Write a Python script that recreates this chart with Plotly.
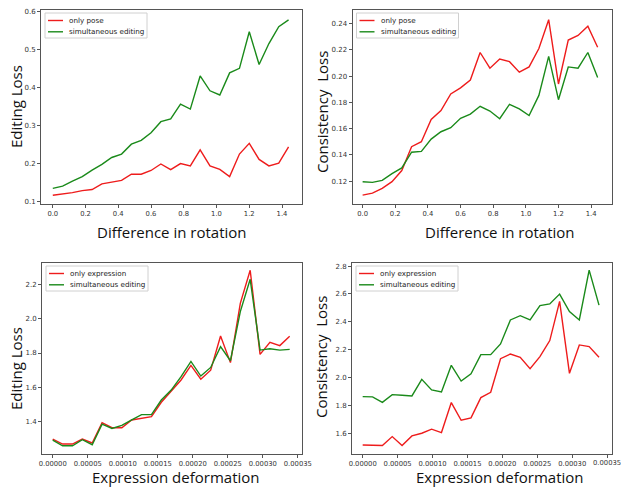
import plotly.graph_objects as go

W, H = 621, 488

# ---------------- data ----------------
rot_x = [round(i * 0.06, 2) for i in range(25)]
pose_edit_only = [0.117, 0.120, 0.124, 0.129, 0.132, 0.147, 0.152, 0.156, 0.172, 0.172,
                  0.182, 0.199, 0.184, 0.200, 0.194, 0.236, 0.194, 0.185, 0.166, 0.225,
                  0.253, 0.211, 0.194, 0.201, 0.244]
pose_edit_sim = [0.135, 0.141, 0.154, 0.166, 0.183, 0.198, 0.216, 0.225, 0.251, 0.261,
                 0.281, 0.310, 0.317, 0.356, 0.343, 0.430, 0.391, 0.380, 0.438, 0.450,
                 0.546, 0.460, 0.515, 0.559, 0.577]
pose_cons_only = [0.1093, 0.1108, 0.1144, 0.1195, 0.128, 0.1462, 0.150, 0.167, 0.1737, 0.1864,
                  0.191, 0.197, 0.218, 0.206, 0.213, 0.211, 0.203, 0.207, 0.221, 0.243,
                  0.194, 0.2275, 0.231, 0.238, 0.222]
pose_cons_sim = [0.1195, 0.119, 0.1205, 0.1256, 0.130, 0.142, 0.1426, 0.152, 0.1576, 0.1607,
                 0.1678, 0.171, 0.177, 0.1734, 0.1675, 0.1785, 0.175, 0.170, 0.1853, 0.215,
                 0.182, 0.207, 0.206, 0.218, 0.199]

exp_x = [i * 0.0000141 for i in range(25)]
exp_edit_only = [1.299, 1.270, 1.270, 1.299, 1.276, 1.394, 1.365, 1.365, 1.410, 1.419,
                 1.429, 1.513, 1.575, 1.643, 1.728, 1.647, 1.700, 1.899, 1.744, 2.089,
                 2.282, 1.792, 1.862, 1.843, 1.897]
exp_edit_sim = [1.293, 1.260, 1.260, 1.295, 1.266, 1.386, 1.361, 1.379, 1.410, 1.441,
                1.441, 1.526, 1.584, 1.662, 1.751, 1.666, 1.716, 1.837, 1.755, 2.041,
                2.229, 1.817, 1.825, 1.817, 1.821]
exp_cons_only = [1.516, 1.512, 1.512, 1.576, 1.512, 1.581, 1.600, 1.629, 1.605, 1.820,
                 1.693, 1.710, 1.856, 1.894, 2.135, 2.169, 2.145, 2.064, 2.150, 2.265,
                 2.547, 2.030, 2.234, 2.222, 2.145]
exp_cons_sim = [1.863, 1.861, 1.822, 1.877, 1.873, 1.868, 1.987, 1.911, 1.896, 2.088,
                1.975, 2.026, 2.164, 2.164, 2.241, 2.413, 2.444, 2.413, 2.516, 2.528,
                2.599, 2.473, 2.413, 2.771, 2.520]

rot_ticks = [0.0, 0.2, 0.4, 0.6, 0.8, 1.0, 1.2, 1.4]
exp_ticks = [0.0, 0.00005, 0.0001, 0.00015, 0.0002, 0.00025, 0.0003, 0.00035]

RED = "#ee1c1c"
GREEN = "#1a8a1a"

# panel boxes in pixels: (left, right, top, bottom)
boxes = {
    1: (41, 302, 10, 204),
    2: (352.5, 612, 10, 204),
    3: (42, 302, 263, 454),
    4: (352, 612, 263, 454),
}

panels = [
    (1, rot_x, pose_edit_only, pose_edit_sim, "only pose", [-0.072, 1.522], [0.094, 0.603],
     rot_ticks, ".1f", [0.1, 0.2, 0.3, 0.4, 0.5, 0.6], ".1f", "Editing Loss", "Difference in rotation",
     (16, 107), (172, 232)),
    (2, rot_x, pose_cons_only, pose_cons_sim, "only pose", [-0.062, 1.528], [0.1025, 0.2504],
     rot_ticks, ".1f", [0.12, 0.14, 0.16, 0.18, 0.20, 0.22, 0.24], ".2f", "Consistency  Loss",
     "Difference in rotation", (322, 112), (500, 232)),
    (3, exp_x, exp_edit_only, exp_edit_sim, "only expression", [-0.0000153, 0.000356], [1.212, 2.324],
     exp_ticks, ".5f", [1.4, 1.6, 1.8, 2.0, 2.2], ".1f", "Editing Loss", "Expression deformation",
     (16, 369), (176, 477)),
    (4, exp_x, exp_cons_only, exp_cons_sim, "only expression", [-0.0000153, 0.000357], [1.451, 2.822],
     exp_ticks, ".5f", [1.6, 1.8, 2.0, 2.2, 2.4, 2.6, 2.8], ".1f", "Consistency  Loss",
     "Expression deformation", (321, 357), (500, 477)),
]

fig = go.Figure()
layout = dict(
    width=W, height=H, margin=dict(l=0, r=0, t=0, b=0),
    paper_bgcolor="white", plot_bgcolor="white", showlegend=False,
    font=dict(family="DejaVu Sans", color="#333"),
)
shapes = []
annotations = []
TICKFONT = dict(family="DejaVu Sans", size=6.8, color="#333")

def px(x):
    return x / W

def py(y):
    return 1 - y / H

for (i, xs, only, sim, oname, xr, yr, xt, xf, yt, yf, ytitle, xtitle, ypos, xpos) in panels:
    sfx = "" if i == 1 else str(i)
    l, r, t, b = boxes[i]
    fig.add_trace(go.Scatter(x=xs, y=only, mode="lines", name=oname,
                             line=dict(color=RED, width=1.4), xaxis="x" + sfx, yaxis="y" + sfx))
    fig.add_trace(go.Scatter(x=xs, y=sim, mode="lines", name="simultaneous editing",
                             line=dict(color=GREEN, width=1.4), xaxis="x" + sfx, yaxis="y" + sfx))
    common = dict(showgrid=False, zeroline=False, showline=True, mirror=True, automargin=False,
                  linecolor="#555", linewidth=1, ticks="outside", ticklen=3, tickwidth=1,
                  tickcolor="#555", ticklabeloverflow="allow")
    xtext = [format(v, xf) for v in xt]
    if i == 4:
        # the right-most label sits at the page edge; it is drawn as an annotation below
        xtext[-1] = ""
        annotations.append(dict(text=format(xt[-1], xf), x=xt[-1], xref="x4", y=py(b + 8.5),
                                yref="paper", showarrow=False, xanchor="center", yanchor="middle",
                                font=TICKFONT))
    layout["xaxis" + sfx] = dict(domain=[px(l), px(r)], range=xr, tickmode="array", tickvals=xt,
                                 ticktext=xtext, anchor="y" + sfx, tickfont=TICKFONT, **common)
    layout["yaxis" + sfx] = dict(domain=[py(b), py(t)], range=yr, tickvals=yt, tickformat=yf,
                                 anchor="x" + sfx,
                                 tickfont=dict(family="DejaVu Sans", size=7, color="#333"), **common)
    annotations.append(dict(text=ytitle, x=px(ypos[0]), y=py(ypos[1]), xref="paper", yref="paper",
                            showarrow=False, textangle=-90, xanchor="center", yanchor="middle",
                            font=dict(family="Open Sans", size=15, color="#111")))
    annotations.append(dict(text=xtitle, x=px(xpos[0]), y=py(xpos[1]), xref="paper", yref="paper",
                            showarrow=False, xanchor="center", yanchor="middle",
                            font=dict(family="Open Sans", size=15, color="#111")))
    # compact matplotlib-like legend
    lx0, ly0 = l + 4, t + 3
    shapes.append(dict(type="rect", xref="paper", yref="paper",
                       x0=px(lx0), x1=px(lx0 + 102), y0=py(ly0 + 25), y1=py(ly0),
                       line=dict(color="#d0d0d0", width=1), fillcolor="white"))
    for k, (col, name) in enumerate([(RED, oname), (GREEN, "simultaneous editing")]):
        yy = ly0 + 7.5 + k * 11.3
        shapes.append(dict(type="line", xref="paper", yref="paper",
                           x0=px(lx0 + 3), x1=px(lx0 + 18), y0=py(yy), y1=py(yy),
                           line=dict(color=col, width=1.4)))
        annotations.append(dict(text=name, x=px(lx0 + 22), y=py(yy), xref="paper", yref="paper",
                                showarrow=False, xanchor="left", yanchor="middle",
                                font=dict(family="DejaVu Sans", size=7.2, color="#222")))

layout["shapes"] = shapes
layout["annotations"] = annotations
fig.update_layout(**layout)
fig.write_html("out.html", config={"displayModeBar": False},
               post_script="document.body.style.margin='0';")
